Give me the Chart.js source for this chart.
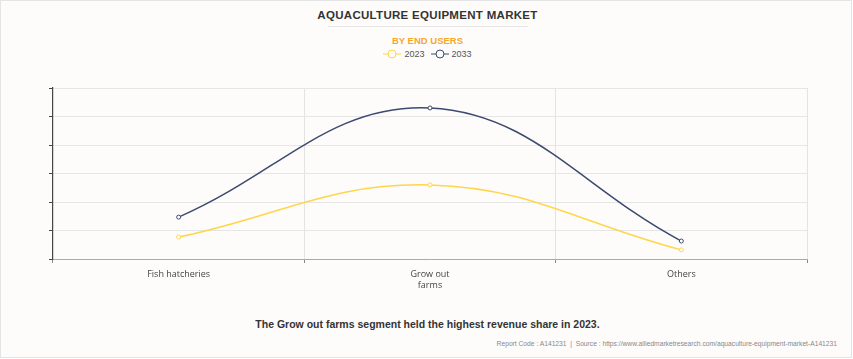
<!DOCTYPE html>
<html>
<head>
<meta charset="utf-8">
<script src="https://cdn.jsdelivr.net/npm/chart.js@4/dist/chart.umd.min.js"></script>
<style>
  html, body { margin: 0; padding: 0; background: #ffffff; }
  #frame { position: absolute; left: 0; top: 0; width: 850px; height: 356px; border: 1px solid #e4e4e4; background: #fdfcfb; overflow: hidden; }
  #title { position: absolute; left: 0; width: 853px; top: 8px; text-align: center; font-family: "Liberation Sans", Arial, sans-serif; font-weight: bold; font-size: 11.5px; color: #333; letter-spacing: 0.3px; }
  #rule { position: absolute; left: 327px; width: 200px; top: 25px; height: 1px; background: #e6e6e6; }
  #sub { position: absolute; left: 0; width: 853px; top: 34px; text-align: center; font-family: "Liberation Sans", Arial, sans-serif; font-weight: bold; font-size: 9.5px; color: #f5a829; }
  #legend { position: absolute; left: 0; width: 853px; top: 48px; text-align: center; font-family: "Liberation Sans", Arial, sans-serif; font-size: 9px; color: #555; }
  .lg { display: inline-flex; align-items: center; margin: 0 3px; }
  .lg svg { margin-right: 3px; }
  #chartbox { position: absolute; left: 0; top: 60px; width: 853px; height: 240px; }
  #caption { position: absolute; left: 0; width: 853px; top: 317px; text-align: center; font-family: "Liberation Sans", Arial, sans-serif; font-weight: bold; font-size: 10.5px; color: #333; }
  #footer { position: absolute; right: 14px; top: 339px; font-family: "Liberation Sans", Arial, sans-serif; font-size: 6.7px; color: #888; }
</style>
</head>
<body>
<div id="frame">
  <div id="title">AQUACULTURE EQUIPMENT MARKET</div>
  <div id="rule"></div>
  <div id="sub">BY END USERS</div>
  <div id="legend"></div>
  <div id="chartbox"><canvas id="c"></canvas></div>
  <div id="caption">The Grow out farms segment held the highest revenue share in 2023.</div>
  <div id="footer">Report Code : A141231 &nbsp;|&nbsp; Source : https://www.alliedmarketresearch.com/aquaculture-equipment-market-A141231</div>
</div>
<script>
const categories = [["Fish hatcheries"], ["Grow out", "farms"], ["Others"]];
const seriesNames = ["2023", "2033"];
const values2023 = [0.77, 2.6, 0.32];
const values2033 = [1.47, 5.3, 0.63];
const seriesColors = ["#ffd54a", "#3b4a6e"];

// legend (HTML)
const lg = document.getElementById('legend');
seriesNames.forEach((n, i) => {
  const s = document.createElement('span');
  s.className = 'lg';
  s.innerHTML = '<svg width="18" height="10"><line x1="0" y1="5" x2="18" y2="5" stroke="' + seriesColors[i] + '" stroke-width="1"/><circle cx="9" cy="5" r="4" fill="#fdfcfb" stroke="' + seriesColors[i] + '" stroke-width="1"/></svg>' + n;
  lg.appendChild(s);
});

new Chart(document.getElementById('c'), {
  type: 'line',
  data: {
    labels: categories,
    datasets: [
      { label: seriesNames[0], data: values2023, borderColor: seriesColors[0], backgroundColor: '#ffffff', borderWidth: 1.5, pointRadius: 2, pointBorderWidth: 1, tension: 0.4 },
      { label: seriesNames[1], data: values2033, borderColor: seriesColors[1], backgroundColor: '#ffffff', borderWidth: 1.5, pointRadius: 2, pointBorderWidth: 1, tension: 0.4 }
    ]
  },
  options: {
    responsive: true,
    maintainAspectRatio: false,
    animation: false,
    layout: { padding: { left: 0, right: 47, top: 27, bottom: 0 } },
    plugins: { legend: { display: false }, title: { display: false }, tooltip: { enabled: false } },
    scales: {
      x: {
        offset: true,
        grid: { offset: true, color: '#e3e3e3', tickLength: 4, tickColor: '#888' },
        border: { color: '#aaa', width: 1 },
        ticks: { color: '#444', font: { family: 'Open Sans', size: 9 }, padding: 6, maxRotation: 0 },
        afterFit: s => { s.height = 42; }
      },
      y: {
        min: 0, max: 6,
        grid: { color: '#e6e6e6', tickLength: 4, tickColor: '#444' },
        border: { color: '#444', width: 1.2 },
        ticks: { stepSize: 1, color: 'rgba(0,0,0,0)', font: { size: 9 } },
        afterFit: s => { s.width = 52; }
      }
    }
  }
});
</script>
</body>
</html>
